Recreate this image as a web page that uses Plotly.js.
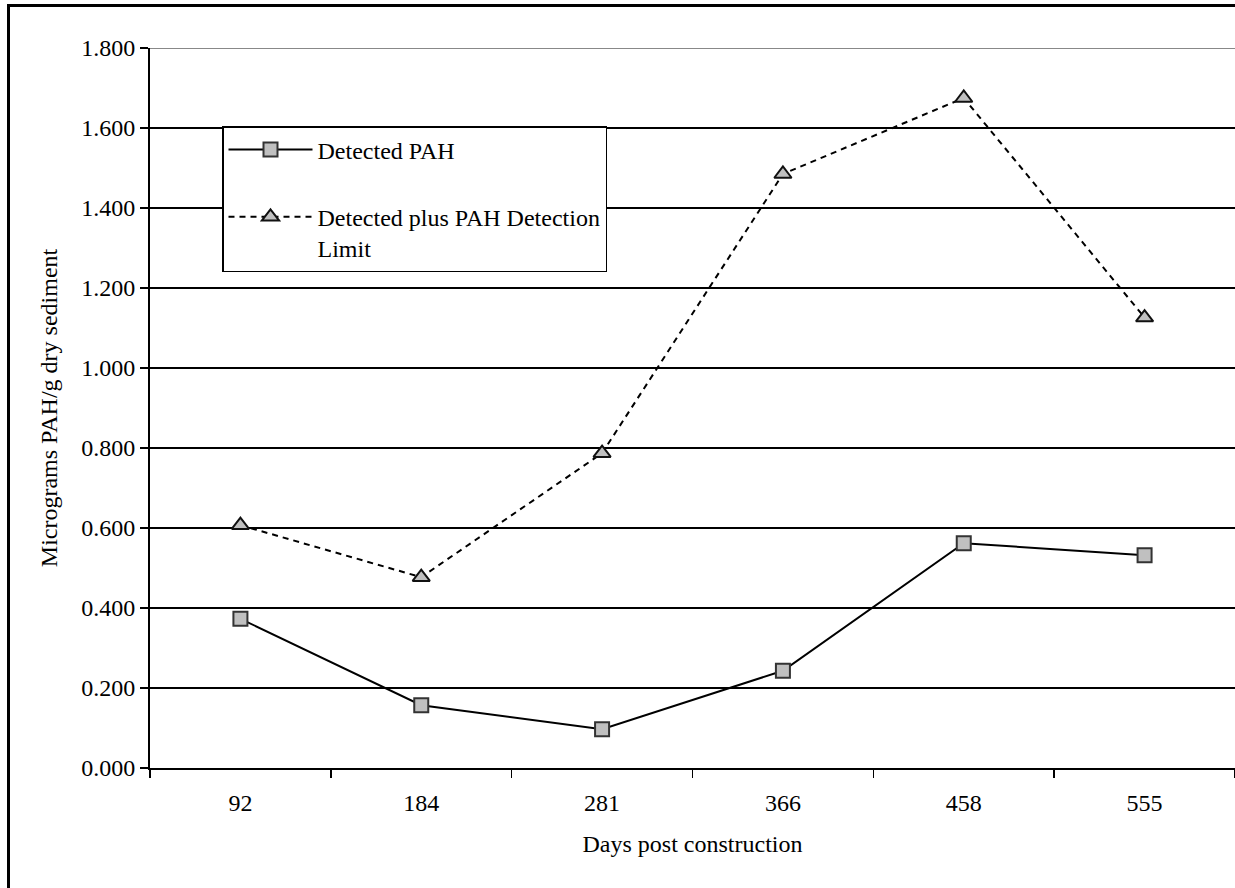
<!DOCTYPE html>
<html>
<head>
<meta charset="utf-8">
<script src="https://cdn.plot.ly/plotly-3.0.1.min.js"></script>
<style>
  html, body { margin: 0; padding: 0; background: #fff; overflow: hidden; }
  #wrap { position: relative; width: 1235px; height: 888px; overflow: hidden; }
  #chart { width: 1235px; height: 888px; }
  .edge { position: absolute; background: #000; pointer-events: none; z-index: 10; }
  #edgeTop { left: 7px; top: 4px; width: 1228px; height: 3px; }
  #edgeLeft { left: 7px; top: 4px; width: 3px; height: 884px; }
</style>
</head>
<body>
<div id="wrap">
  <div id="chart"></div>
  <div id="edgeTop" class="edge"></div>
  <div id="edgeLeft" class="edge"></div>
</div>
<script>
// ---- Data ----
const days = ['92', '184', '281', '366', '458', '555'];
const detectedPAH = [0.373, 0.157, 0.097, 0.243, 0.562, 0.532];
const detectedPlusLimit = [0.607, 0.477, 0.787, 1.485, 1.675, 1.126];
const seriesNames = ['Detected PAH', 'Detected plus PAH Detection<br>Limit'];
const yTitle = 'Micrograms PAH/g dry sediment';
const xTitle = 'Days post construction';

const FONT = 'Liberation Serif, Times New Roman, Times, serif';
const PLOT_W = 1085;

const traces = [
  {
    x: days, y: detectedPAH, name: seriesNames[0], type: 'scatter', mode: 'lines+markers',
    legendgroup: 'a',
    line: { color: '#000', width: 2 },
    marker: { symbol: 'square', size: 14, color: '#c0c0c0', line: { color: '#333', width: 2 } }
  },
  {
    x: days, y: detectedPlusLimit, name: seriesNames[1], type: 'scatter', mode: 'lines+markers',
    legendgroup: 'b',
    line: { color: '#000', width: 2, dash: '6px,5px' },
    marker: { symbol: 'triangle-up', size: 15, color: '#c0c0c0', line: { color: '#111', width: 2 } }
  }
];

const layout = {
  width: 1235, height: 888,
  margin: { l: 150, r: 0, t: 48, b: 120 },
  paper_bgcolor: '#fff', plot_bgcolor: '#fff',
  font: { family: FONT, size: 24, color: '#000' },
  showlegend: true,
  legend: {
    x: (222 - 150) / PLOT_W, y: (768 - 126) / 720, xanchor: 'left', yanchor: 'top',
    bgcolor: '#fff', bordercolor: '#000', borderwidth: 1.5,
    font: { family: FONT, size: 24, color: '#000' },
    traceorder: 'grouped', tracegroupgap: 33, valign: 'top', itemwidth: 84
  },
  xaxis: {
    type: 'category', range: [-0.5, 5.5],
    showline: true, linecolor: '#000', linewidth: 2,
    showgrid: false, zeroline: false,
    ticks: 'outside', ticklen: 8, tickwidth: 1.5, tickcolor: '#000', tickson: 'boundaries',
    ticklabelstandoff: 12,
    tickfont: { family: FONT, size: 24, color: '#000' },
    title: { text: xTitle, font: { family: FONT, size: 24, color: '#000' }, standoff: 20 }
  },
  yaxis: {
    range: [0, 1.8], dtick: 0.2, tick0: 0, tickformat: '.3f',
    showline: true, linecolor: '#000', linewidth: 2,
    showgrid: true, gridcolor: '#000', gridwidth: 1.2,
    zeroline: false,
    ticks: 'outside', ticklen: 8, tickwidth: 1.5, tickcolor: '#000',
    tickfont: { family: FONT, size: 24, color: '#000' },
    title: { text: yTitle, font: { family: FONT, size: 24, color: '#000' }, standoff: 17 }
  },
  shapes: [
    { type: 'line', xref: 'paper', yref: 'y', x0: 0, x1: 1, y0: 1.8, y1: 1.8,
      line: { color: '#888', width: 2 }, layer: 'above' }
  ]
};

Plotly.newPlot('chart', traces, layout, { displayModeBar: false, staticPlot: true });
</script>
</body>
</html>
